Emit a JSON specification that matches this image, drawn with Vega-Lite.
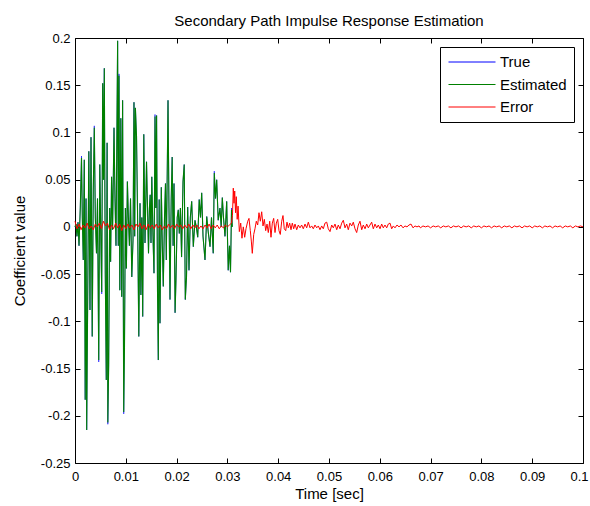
{
"$schema":"https://vega.github.io/schema/vega-lite/v6.json",
"width":508,"height":425,
"autosize":{"type":"none"},
"padding":{"left":75,"top":38,"right":7,"bottom":43},
"background":"white",
"title":{"text":"Secondary Path Impulse Response Estimation","fontSize":15,"fontWeight":"normal","font":"Liberation Sans","color":"#000","offset":3},
"config":{"view":{"stroke":null},"axis":{"domainColor":"#000","tickColor":"#000","labelColor":"#000","labelFont":"Liberation Sans","labelFontSize":13,"titleFont":"Liberation Sans","titleFontSize":15,"titleFontWeight":"normal","titleColor":"#000","grid":false,"tickSize":-5,"domainWidth":1,"tickWidth":1}},
"datasets":{
"sig":[
{"t":0,"E":0,"T":0},{"t":0.0002,"E":0.003,"T":0.003},{"t":0.00039,"E":-0.01,"T":-0.01},{"t":0.00059,"E":0.005,"T":0.005},{"t":0.00079,"E":-0.02,"T":-0.02},{"t":0.00104,"E":0.02,"T":0.02},{"t":0.00128,"E":0.073,"T":0.075},{"t":0.00144,"E":0.01,"T":0.01},{"t":0.00163,"E":-0.035,"T":-0.035},{"t":0.00183,"E":0.071,"T":0.071},
{"t":0.00201,"E":-0.183,"T":-0.183},{"t":0.00217,"E":0.03,"T":0.03},{"t":0.0023,"E":-0.215,"T":-0.215},{"t":0.00248,"E":-0.088,"T":-0.088},{"t":0.00272,"E":0.08,"T":0.08},{"t":0.00295,"E":-0.088,"T":-0.088},{"t":0.00315,"E":0.095,"T":0.095},{"t":0.00339,"E":-0.116,"T":-0.116},{"t":0.0036,"E":0.04,"T":0.04},{"t":0.0038,"E":0.105,"T":0.107},
{"t":0.004,"E":0.01,"T":0.01},{"t":0.00423,"E":-0.028,"T":-0.028},{"t":0.00443,"E":0.03,"T":0.03},{"t":0.00467,"E":-0.141,"T":-0.143},{"t":0.00488,"E":0.066,"T":0.066},{"t":0.00508,"E":-0.01,"T":-0.01},{"t":0.00526,"E":-0.069,"T":-0.071},{"t":0.00545,"E":0.152,"T":0.152},{"t":0.00561,"E":0.05,"T":0.05},{"t":0.00577,"E":0.168,"T":0.168},
{"t":0.00596,"E":-0.05,"T":-0.05},{"t":0.00616,"E":-0.162,"T":-0.162},{"t":0.00632,"E":0.089,"T":0.089},{"t":0.00646,"E":-0.207,"T":-0.209},{"t":0.00663,"E":-0.146,"T":-0.146},{"t":0.00683,"E":0.02,"T":0.02},{"t":0.00701,"E":-0.037,"T":-0.037},{"t":0.0072,"E":0.053,"T":0.053},{"t":0.0074,"E":-0.003,"T":-0.003},{"t":0.00768,"E":0.105,"T":0.105},
{"t":0.00787,"E":0.03,"T":0.03},{"t":0.00807,"E":-0.02,"T":-0.02},{"t":0.00839,"E":0.197,"T":0.197},{"t":0.00852,"E":-0.02,"T":-0.02},{"t":0.00866,"E":0.16,"T":0.162},{"t":0.00882,"E":-0.067,"T":-0.067},{"t":0.00902,"E":0.115,"T":0.115},{"t":0.00919,"E":-0.074,"T":-0.074},{"t":0.00937,"E":0.134,"T":0.134},{"t":0.00959,"E":-0.196,"T":-0.198},
{"t":0.00974,"E":-0.128,"T":-0.128},{"t":0.00992,"E":0.02,"T":0.02},{"t":0.01012,"E":-0.044,"T":-0.044},{"t":0.01031,"E":0.048,"T":0.048},{"t":0.01051,"E":0.01,"T":0.01},{"t":0.01071,"E":-0.02,"T":-0.02},{"t":0.01093,"E":0.03,"T":0.03},{"t":0.01118,"E":-0.053,"T":-0.053},{"t":0.01142,"E":-0.014,"T":-0.014},{"t":0.01161,"E":0.132,"T":0.132},
{"t":0.01175,"E":-0.01,"T":-0.01},{"t":0.01189,"E":0.126,"T":0.126},{"t":0.01211,"E":0.096,"T":0.096},{"t":0.0123,"E":0.02,"T":0.02},{"t":0.01256,"E":-0.116,"T":-0.116},{"t":0.0128,"E":0.025,"T":0.025},{"t":0.01297,"E":-0.072,"T":-0.072},{"t":0.01315,"E":0.01,"T":0.01},{"t":0.01333,"E":-0.095,"T":-0.095},{"t":0.01354,"E":0.098,"T":0.098},
{"t":0.01378,"E":-0.017,"T":-0.017},{"t":0.01408,"E":0.069,"T":0.069},{"t":0.01447,"E":-0.028,"T":-0.028},{"t":0.01465,"E":0.02,"T":0.02},{"t":0.0148,"E":0.034,"T":0.034},{"t":0.01496,"E":-0.017,"T":-0.017},{"t":0.01512,"E":0.053,"T":0.053},{"t":0.01535,"E":-0.01,"T":-0.01},{"t":0.01555,"E":-0.049,"T":-0.049},{"t":0.01575,"E":0.117,"T":0.119},
{"t":0.01591,"E":0.02,"T":0.02},{"t":0.01606,"E":0.118,"T":0.118},{"t":0.01624,"E":-0.067,"T":-0.067},{"t":0.0164,"E":-0.141,"T":-0.141},{"t":0.01657,"E":0.029,"T":0.029},{"t":0.01673,"E":-0.102,"T":-0.102},{"t":0.01699,"E":0.042,"T":0.042},{"t":0.01719,"E":-0.02,"T":-0.02},{"t":0.01738,"E":-0.063,"T":-0.063},{"t":0.01762,"E":0.01,"T":0.01},
{"t":0.01781,"E":0.046,"T":0.046},{"t":0.01797,"E":-0.035,"T":-0.035},{"t":0.01831,"E":0.134,"T":0.134},{"t":0.0185,"E":0.02,"T":0.02},{"t":0.0187,"E":-0.077,"T":-0.077},{"t":0.01894,"E":0.03,"T":0.03},{"t":0.01913,"E":0.074,"T":0.074},{"t":0.01931,"E":-0.02,"T":-0.02},{"t":0.01949,"E":0.046,"T":0.046},{"t":0.0197,"E":-0.091,"T":-0.091},
{"t":0.01988,"E":-0.056,"T":-0.056},{"t":0.02012,"E":0.01,"T":0.01},{"t":0.02033,"E":0.018,"T":0.018},{"t":0.02053,"E":-0.007,"T":-0.007},{"t":0.02075,"E":0.02,"T":0.02},{"t":0.02098,"E":-0.032,"T":-0.032},{"t":0.02126,"E":0.048,"T":0.048},{"t":0.0215,"E":0.066,"T":0.066},{"t":0.02171,"E":-0.077,"T":-0.077},{"t":0.02195,"E":-0.053,"T":-0.053},
{"t":0.02218,"E":0.021,"T":0.021},{"t":0.02244,"E":-0.046,"T":-0.046},{"t":0.0227,"E":0.01,"T":0.01},{"t":0.02297,"E":0.027,"T":0.027},{"t":0.02329,"E":-0.021,"T":-0.021},{"t":0.02362,"E":0.007,"T":0.007},{"t":0.02388,"E":0,"T":0},{"t":0.02416,"E":-0.011,"T":-0.011},{"t":0.02445,"E":0.029,"T":0.029},{"t":0.02471,"E":0.01,"T":0.01},
{"t":0.02494,"E":0.036,"T":0.036},{"t":0.0252,"E":-0.01,"T":-0.01},{"t":0.02559,"E":-0.035,"T":-0.035},{"t":0.02593,"E":0.011,"T":0.011},{"t":0.02622,"E":-0.005,"T":-0.005},{"t":0.02658,"E":-0.021,"T":-0.021},{"t":0.02687,"E":0.01,"T":0.01},{"t":0.02721,"E":-0.028,"T":-0.028},{"t":0.02742,"E":0.057,"T":0.059},{"t":0.02766,"E":0.03,"T":0.03},
{"t":0.02789,"E":0.05,"T":0.05},{"t":0.02819,"E":0.007,"T":0.007},{"t":0.02854,"E":0.02,"T":0.02},{"t":0.02878,"E":0,"T":0},{"t":0.029,"E":0.031,"T":0.031},{"t":0.02923,"E":0.01,"T":0.01},{"t":0.02953,"E":-0.01,"T":-0.01},{"t":0.02986,"E":0.027,"T":0.027},{"t":0.03016,"E":-0.046,"T":-0.046},{"t":0.03041,"E":-0.02,"T":-0.02},
{"t":0.03061,"E":-0.048,"T":-0.048},{"t":0.03081,"E":0.018,"T":0.02},{"t":0.03097,"E":0,"T":0}
],
"err":[
{"t":0,"e":0.006},{"t":0.0004,"e":-0.002},{"t":0.0008,"e":0.003},{"t":0.0012,"e":-0.003},{"t":0.0016,"e":0.002},{"t":0.002,"e":-0.001},{"t":0.0024,"e":0.004},{"t":0.0028,"e":-0.002},{"t":0.0032,"e":0.001},{"t":0.0036,"e":-0.003},
{"t":0.004,"e":0.003},{"t":0.0044,"e":0},{"t":0.0048,"e":0.004},{"t":0.0052,"e":-0.002},{"t":0.0056,"e":0.006},{"t":0.006,"e":0.001},{"t":0.0064,"e":0.004},{"t":0.0068,"e":-0.003},{"t":0.0072,"e":0.002},{"t":0.0076,"e":-0.002},
{"t":0.008,"e":0.004},{"t":0.0084,"e":-0.001},{"t":0.0088,"e":0.003},{"t":0.0092,"e":-0.004},{"t":0.0096,"e":0.002},{"t":0.01,"e":-0.002},{"t":0.0104,"e":0.003},{"t":0.0108,"e":-0.001},{"t":0.0112,"e":0.002},{"t":0.0116,"e":-0.003},
{"t":0.012,"e":0.003},{"t":0.0124,"e":0},{"t":0.0128,"e":0.004},{"t":0.0132,"e":-0.002},{"t":0.0136,"e":0.002},{"t":0.014,"e":-0.003},{"t":0.0144,"e":0.003},{"t":0.0148,"e":-0.001},{"t":0.0152,"e":0.002},{"t":0.0156,"e":-0.002},
{"t":0.016,"e":0.003},{"t":0.0164,"e":-0.001},{"t":0.0168,"e":0.002},{"t":0.0172,"e":-0.003},{"t":0.0176,"e":0.001},{"t":0.018,"e":-0.002},{"t":0.0184,"e":0.003},{"t":0.0188,"e":-0.001},{"t":0.0192,"e":0.002},{"t":0.0196,"e":-0.002},
{"t":0.02,"e":0.003},{"t":0.0204,"e":0},{"t":0.0208,"e":0.002},{"t":0.0212,"e":-0.002},{"t":0.0216,"e":0.002},{"t":0.022,"e":-0.001},{"t":0.0224,"e":0.003},{"t":0.0228,"e":-0.002},{"t":0.0232,"e":0.002},{"t":0.0236,"e":-0.001},
{"t":0.024,"e":0.002},{"t":0.0244,"e":-0.002},{"t":0.0248,"e":0.001},{"t":0.0252,"e":-0.002},{"t":0.0256,"e":0.002},{"t":0.026,"e":-0.001},{"t":0.0264,"e":0.003},{"t":0.0268,"e":-0.002},{"t":0.0272,"e":0.002},{"t":0.0276,"e":-0.001},
{"t":0.028,"e":0.002},{"t":0.0284,"e":-0.002},{"t":0.0288,"e":0.001},{"t":0.0292,"e":-0.001},{"t":0.0296,"e":0.002},{"t":0.03,"e":0},{"t":0.0304,"e":0.002},{"t":0.0308,"e":0.004},{"t":0.031,"e":0.012},{"t":0.03116,"e":0.041},
{"t":0.0313,"e":0.025},{"t":0.03144,"e":0.038},{"t":0.0316,"e":0.015},{"t":0.03175,"e":0.032},{"t":0.03193,"e":0.008},{"t":0.0321,"e":0.022},{"t":0.03235,"e":-0.005},{"t":0.03262,"e":0.004},{"t":0.03287,"e":-0.012},{"t":0.03313,"e":0},
{"t":0.0334,"e":-0.011},{"t":0.03366,"e":-0.002},{"t":0.034,"e":0.006},{"t":0.03425,"e":0.009},{"t":0.03451,"e":-0.004},{"t":0.03471,"e":-0.015},{"t":0.0349,"e":-0.028},{"t":0.03518,"e":-0.008},{"t":0.03543,"e":-0.002},{"t":0.03569,"e":0.006},
{"t":0.03596,"e":0.002},{"t":0.03622,"e":0.015},{"t":0.03648,"e":0.006},{"t":0.03675,"e":0.016},{"t":0.03701,"e":0.001},{"t":0.03727,"e":0.008},{"t":0.03754,"e":-0.004},{"t":0.0378,"e":0.003},{"t":0.03805,"e":-0.006},{"t":0.03833,"e":0.006},
{"t":0.03858,"e":-0.011},{"t":0.03884,"e":0.004},{"t":0.03911,"e":0.009},{"t":0.03937,"e":-0.006},{"t":0.03963,"e":0.004},{"t":0.0399,"e":0.008},{"t":0.04016,"e":-0.004},{"t":0.04041,"e":-0.008},{"t":0.04069,"e":0.006},{"t":0.04094,"e":0.012},
{"t":0.0412,"e":-0.002},{"t":0.04148,"e":-0.004},{"t":0.04173,"e":0.005},{"t":0.04199,"e":-0.001},{"t":0.04226,"e":0.004},{"t":0.04252,"e":-0.003},{"t":0.04278,"e":0.004},{"t":0.04305,"e":-0.002},{"t":0.04331,"e":0.003},{"t":0.04364,"e":-0.003},
{"t":0.04396,"e":0.002},{"t":0.04429,"e":-0.001},{"t":0.04462,"e":0.002},{"t":0.04494,"e":-0.002},{"t":0.04528,"e":0.003},{"t":0.04561,"e":-0.001},{"t":0.04593,"e":0.005},{"t":0.04626,"e":-0.001},{"t":0.04659,"e":0.001},{"t":0.04691,"e":-0.002},
{"t":0.04724,"e":0.002},{"t":0.04758,"e":-0.001},{"t":0.0479,"e":0.001},{"t":0.04823,"e":-0.003},{"t":0.04856,"e":0.001},{"t":0.04888,"e":-0.002},{"t":0.04921,"e":0.004},{"t":0.04955,"e":0.005},{"t":0.04986,"e":-0.002},{"t":0.0502,"e":-0.005},
{"t":0.05053,"e":0.002},{"t":0.05085,"e":-0.001},{"t":0.05118,"e":0.003},{"t":0.05152,"e":-0.003},{"t":0.05183,"e":0.002},{"t":0.05217,"e":-0.002},{"t":0.0525,"e":0.004},{"t":0.05282,"e":0.007},{"t":0.05315,"e":-0.001},{"t":0.05348,"e":0.003},
{"t":0.0538,"e":-0.003},{"t":0.05413,"e":0.004},{"t":0.05447,"e":0.001},{"t":0.05478,"e":0.005},{"t":0.05512,"e":-0.002},{"t":0.05545,"e":-0.006},{"t":0.05577,"e":0.002},{"t":0.0561,"e":0.006},{"t":0.05644,"e":-0.003},{"t":0.05675,"e":0.002},
{"t":0.05709,"e":-0.002},{"t":0.05742,"e":0.003},{"t":0.05774,"e":-0.001},{"t":0.05807,"e":0.002},{"t":0.0584,"e":0.005},{"t":0.05872,"e":-0.002},{"t":0.05906,"e":0.003},{"t":0.05939,"e":-0.001},{"t":0.05971,"e":0.002},{"t":0.06004,"e":-0.002},
{"t":0.06037,"e":0.003},{"t":0.06069,"e":-0.001},{"t":0.06102,"e":0.002},{"t":0.06136,"e":-0.001},{"t":0.06167,"e":0.003},{"t":0.06201,"e":0.004},{"t":0.06234,"e":-0.002},{"t":0.06266,"e":0.001},{"t":0.06299,"e":-0.001},{"t":0.06339,"e":0.002},
{"t":0.06378,"e":0},{"t":0.06417,"e":0.002},{"t":0.06457,"e":-0.001},{"t":0.06496,"e":0.001},{"t":0.06535,"e":0},{"t":0.06575,"e":0.002},{"t":0.06614,"e":0.003},{"t":0.06654,"e":-0.001},{"t":0.06693,"e":0.001},{"t":0.06732,"e":0},
{"t":0.06772,"e":0.001},{"t":0.068,"e":-0.001},{"t":0.0685,"e":0.001},{"t":0.069,"e":0},{"t":0.0695,"e":0.001},{"t":0.07,"e":-0.001},{"t":0.0705,"e":0.001},{"t":0.071,"e":0},{"t":0.0715,"e":0.001},{"t":0.072,"e":-0.001},
{"t":0.0725,"e":0.001},{"t":0.073,"e":0},{"t":0.0735,"e":0.001},{"t":0.074,"e":-0.001},{"t":0.0745,"e":0.001},{"t":0.075,"e":0},{"t":0.0755,"e":0.001},{"t":0.076,"e":-0.001},{"t":0.0765,"e":0.001},{"t":0.077,"e":0},
{"t":0.0775,"e":0.001},{"t":0.078,"e":-0.001},{"t":0.0785,"e":0.001},{"t":0.079,"e":0},{"t":0.0795,"e":0.001},{"t":0.08,"e":-0.001},{"t":0.0805,"e":0.001},{"t":0.081,"e":0},{"t":0.0815,"e":0.001},{"t":0.082,"e":-0.001},
{"t":0.0825,"e":0.001},{"t":0.083,"e":0},{"t":0.0835,"e":0.001},{"t":0.084,"e":-0.001},{"t":0.0845,"e":0.001},{"t":0.085,"e":0},{"t":0.0855,"e":0.001},{"t":0.086,"e":-0.001},{"t":0.0865,"e":0.001},{"t":0.087,"e":0},
{"t":0.0875,"e":0.001},{"t":0.088,"e":-0.001},{"t":0.0885,"e":0.001},{"t":0.089,"e":0},{"t":0.0895,"e":0.001},{"t":0.09,"e":-0.001},{"t":0.0905,"e":0.001},{"t":0.091,"e":0},{"t":0.0915,"e":0.001},{"t":0.092,"e":-0.001},
{"t":0.0925,"e":0.001},{"t":0.093,"e":0},{"t":0.0935,"e":0.001},{"t":0.094,"e":-0.001},{"t":0.0945,"e":0.001},{"t":0.095,"e":0},{"t":0.0955,"e":0.001},{"t":0.096,"e":-0.001},{"t":0.0965,"e":0.001},{"t":0.097,"e":0},
{"t":0.0975,"e":0.001},{"t":0.098,"e":-0.001},{"t":0.0985,"e":0.001},{"t":0.099,"e":0},{"t":0.0995,"e":0.001},{"t":0.1,"e":0}
]},
"layer":[
{"data":{"name":"sig"},"mark":{"type":"line","strokeWidth":0.6},
 "encoding":{
  "x":{"field":"t","type":"quantitative","scale":{"domain":[0,0.1],"nice":false,"zero":false},
       "axis":{"orient":"bottom","values":[0,0.01,0.02,0.03,0.04,0.05,0.06,0.07,0.08,0.09,0.1],"labelExpr":"'' + datum.value","title":"Time [sec]","labelPadding":12,"titlePadding":3,"labelFlush":false,
               "labelOffset":{"condition":{"test":"datum.value >= 0.1","value":-4},"value":0}}},
  "y":{"field":"T","type":"quantitative","scale":{"domain":[-0.25,0.2],"nice":false,"zero":false},
       "axis":{"orient":"left","values":[-0.25,-0.2,-0.15,-0.1,-0.05,0,0.05,0.1,0.15,0.2],"labelExpr":"'' + datum.value","title":"Coefficient value","labelPadding":10,"titlePadding":13,"labelFlush":false}},
  "color":{"datum":"True","type":"nominal","scale":{"domain":["True","Estimated","Error"],"range":["#0000ff","#008000","#ff0000"]},
    "legend":{"title":null,"orient":"none","legendX":365,"legendY":9,"symbolType":"stroke","symbolSize":2209,"symbolStrokeWidth":1,"symbolOffset":1,"labelFont":"Liberation Sans","labelFontSize":15,"labelColor":"#000","strokeColor":"#000","fillColor":"#fff","padding":7,"labelOffset":4,"clipHeight":16,"rowPadding":6.5}}
 }},
{"data":{"name":"sig"},"mark":{"type":"line","strokeWidth":1.1},
 "encoding":{"x":{"field":"t","type":"quantitative","axis":null},"y":{"field":"E","type":"quantitative","axis":null},"color":{"datum":"Estimated","type":"nominal"}}},
{"data":{"name":"err"},"mark":{"type":"line","strokeWidth":1},
 "encoding":{"x":{"field":"t","type":"quantitative","axis":null},"y":{"field":"e","type":"quantitative","axis":null},"color":{"datum":"Error","type":"nominal"}}},
{"data":{"name":"err"},"mark":{"type":"line","opacity":0},
 "encoding":{
  "x":{"field":"t","type":"quantitative","axis":{"orient":"top","values":[0,0.01,0.02,0.03,0.04,0.05,0.06,0.07,0.08,0.09,0.1],"labels":false,"title":null}},
  "y":{"field":"e","type":"quantitative","axis":{"orient":"right","values":[-0.25,-0.2,-0.15,-0.1,-0.05,0,0.05,0.1,0.15,0.2],"labels":false,"title":null}}}}
],
"resolve":{"axis":{"x":"independent","y":"independent"}}
}
